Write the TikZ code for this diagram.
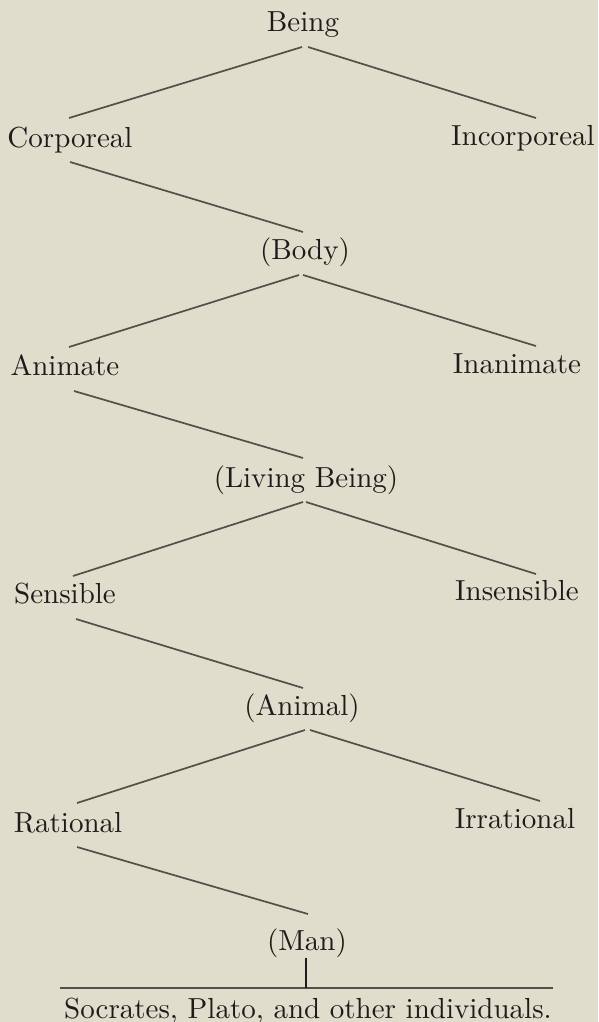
\documentclass[tikz,border=0pt]{standalone}
\usepackage{fontspec}
\setmainfont{lmroman10-regular.otf}
\definecolor{paper}{RGB}{224,221,204}
\definecolor{ink}{RGB}{30,28,26}
\definecolor{rulecol}{RGB}{82,80,74}
\begin{document}
\begin{tikzpicture}[x=1pt,y=-1pt,
  lbl/.style={anchor=base,inner sep=0pt,outer sep=0pt,text=ink,font=\fontsize{29}{34}\selectfont},
  branch/.style={draw=rulecol,line width=1.7pt},
  baseline rule/.style={draw=rulecol,line width=1.5pt}]
\fill[paper] (0,0) rectangle (598,1022);
\useasboundingbox (0,0) rectangle (598,1022);
% nodes
\node[lbl] (being)  at (303,32)  {Being};
\node[lbl] (corp)   at (70,147)  {Corporeal};
\node[lbl] (incorp) at (523,146) {Incorporeal};
\node[lbl] (body)   at (305,259) {(Body)};
\node[lbl] (anim)   at (65,375)  {Animate};
\node[lbl] (inanim) at (517,373) {Inanimate};
\node[lbl] (living) at (306,487) {(Living Being)};
\node[lbl] (sens)   at (65,603)  {Sensible};
\node[lbl] (insens) at (517,600) {Insensible};
\node[lbl] (animal) at (302,715) {(Animal)};
\node[lbl] (rat)    at (68,832)  {Rational};
\node[lbl] (irr)    at (515,828) {Irrational};
\node[lbl] (man)    at (307,950) {(Man)};
\node[lbl] (soc)    at (308,1018) {Socrates, Plato, and other individuals.};
% connectors
\draw[branch] ([shift={(-1pt,-15pt)}]being.base) -- ([shift={(-1pt,29pt)}]corp.base);
\draw[branch] ([shift={(5pt,-15pt)}]being.base) -- ([shift={(13pt,28pt)}]incorp.base);
\draw[branch] ([shift={(0pt,-15pt)}]corp.base) -- ([shift={(-2pt,27pt)}]body.base);
\draw[branch] ([shift={(-6pt,-16pt)}]body.base) -- ([shift={(4pt,28pt)}]anim.base);
\draw[branch] ([shift={(-2pt,-16pt)}]body.base) -- ([shift={(19pt,27pt)}]inanim.base);
\draw[branch] ([shift={(9pt,-16pt)}]anim.base) -- ([shift={(-3pt,29pt)}]living.base);
\draw[branch] ([shift={(-3pt,-15pt)}]living.base) -- ([shift={(8pt,27pt)}]sens.base);
\draw[branch] ([shift={(0pt,-15pt)}]living.base) -- ([shift={(19pt,26pt)}]insens.base);
\draw[branch] ([shift={(11pt,-16pt)}]sens.base) -- ([shift={(1pt,27pt)}]animal.base);
\draw[branch] ([shift={(3pt,-15pt)}]animal.base) -- ([shift={(9pt,29pt)}]rat.base);
\draw[branch] ([shift={(8pt,-15pt)}]animal.base) -- ([shift={(25pt,27pt)}]irr.base);
\draw[branch] ([shift={(9pt,-15pt)}]rat.base) -- ([shift={(1pt,36pt)}]man.base);
% rule above the individuals
\coordinate (hl-l) at ([shift={(-248pt,30pt)}]soc.base);
\coordinate (hl-r) at ([shift={(245pt,30pt)}]soc.base);
\draw[baseline rule] (hl-l) -- (hl-r);
\coordinate (tick) at ([shift={(-1pt,-8pt)}]man.base);
\draw[draw=ink,line width=1.5pt] (tick) -- (tick |- hl-l);
\end{tikzpicture}
\end{document}
